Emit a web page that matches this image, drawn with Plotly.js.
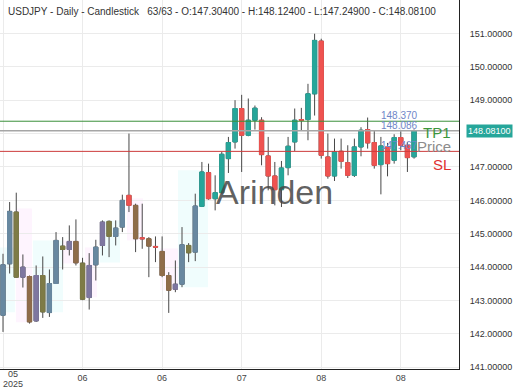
<!DOCTYPE html>
<html><head><meta charset="utf-8">
<script src="https://cdn.plot.ly/plotly-3.0.1.min.js"></script>
<style>html,body{margin:0;padding:0;background:#fff}#chart{width:520px;height:390px}</style>
</head><body><div id="chart"></div>
<script>
// ---- data ----
const opens  = [142.56,144.10,145.65,143.70,143.72,142.39,143.75,142.64,143.51,144.63,
                144.53,144.77,144.12,143.09,144.07,144.65,145.37,144.92,145.20,146.15,
                145.85,144.88,144.85,144.62,144.47,143.75,143.34,143.49,144.65,144.45,
                145.82,146.83,146.05,146.23,147.25,147.75,148.75,147.95,148.40,148.40,
                147.33,146.73,146.32,146.98,147.75,148.42,148.42,149.19,150.77,147.30,
                146.73,147.47,147.13,146.75,147.60,148.12,147.73,147.07,147.60,147.20,
                147.88,147.65,147.304];
const highs  = [144.40,145.95,146.23,144.38,143.75,144.05,144.32,143.93,145.05,144.90,
                145.25,145.43,144.28,144.42,144.82,145.40,145.40,145.40,146.17,148.00,
                145.90,145.90,144.90,144.92,144.92,143.85,144.20,145.20,144.72,146.20,
                147.15,147.10,146.75,147.45,147.90,149.00,149.16,149.05,148.84,148.49,
                147.90,147.15,147.18,147.90,148.75,148.77,149.49,150.99,150.84,148.00,
                147.85,147.85,147.65,147.85,148.19,148.48,148.10,147.90,147.72,147.98,
                148.07,147.75,148.124];
const lows   = [142.06,143.81,143.68,143.39,142.31,142.36,142.48,142.51,143.50,143.93,
                144.35,144.05,143.01,142.73,143.60,144.35,144.30,144.65,145.05,145.65,
                144.45,144.55,143.70,144.15,143.70,142.63,143.25,143.40,144.15,144.18,
                145.80,146.02,145.70,146.20,146.82,147.55,146.85,147.92,148.12,147.05,
                146.30,145.85,145.80,146.75,147.48,148.10,147.80,148.54,147.25,146.65,
                146.58,146.95,146.67,146.70,147.32,147.55,146.95,146.18,146.72,147.10,
                147.50,146.85,147.249];
const closes = [144.07,145.67,143.70,144.00,142.36,143.75,142.66,143.51,144.80,144.53,
                144.77,144.13,143.04,144.05,144.60,145.35,144.92,145.17,146.00,145.85,
                144.85,144.85,144.63,144.60,143.75,143.31,143.49,144.67,144.43,145.83,
                146.85,146.05,146.23,147.38,147.73,148.75,147.95,148.40,148.76,147.37,
                146.73,146.32,146.97,147.62,148.40,148.40,149.19,150.79,147.35,146.73,
                147.45,147.17,146.75,147.60,148.10,147.72,147.05,147.63,147.10,147.88,
                147.65,147.28,148.081];
const yTicks     = [141,142,143,144,145,146,147,148,149,150,151];
const yTickText  = ['141.00000','142.00000','143.00000','144.00000','145.00000','146.00000',
                    '147.00000','','149.00000','150.00000','151.00000'];
const xTickIdx   = [0,12,24,36,48,60];
const xTickText  = ['05','06','06','07','08','08'];
const firstYear  = '2025';
const tpLevel    = 148.370;
const entryLevel = 148.086;
const slLevel    = 147.467;
const lastPrice  = 148.081;
const headerText = 'USDJPY - Daily - Candlestick \u00a0\u00a063/63 - O:147.30400 - H:148.12400 - L:147.24900 - C:148.08100';
// signal zones: [fromIdx, toIdx, low, high, kind]
const zones = [
  [-0.45, 1.8, 142.65, 144.59, 'up'],
  [1.96, 4.37, 142.35, 145.76, 'down'],
  [4.52, 9.05, 142.65, 144.80, 'up'],
  [9.05, 11.61, 144.11, 144.80, 'down'],
  [12.37, 14.18, 143.10, 144.59, 'down'],
  [14.63, 17.65, 144.14, 145.40, 'up'],
  [18.70, 21.12, 144.80, 146.06, 'down'],
  [23.68, 26.40, 143.31, 144.56, 'down'],
  [26.40, 30.92, 143.40, 146.90, 'up']
];

// ---- style config ----
const toneGroups = [
  {idx:[0,1,7,8,14,17,18,27,29], color:'#6888a0'},
  {idx:[3,5,10,13,15,26], color:'#7e77a0'},
  {idx:[2,6,9,12,16,28], color:'#7e7b46'},
  {idx:[4,11,20,22,24,25], color:'#8f6c4a'}
];
const upColor = '#26a69a', downColor = '#ef5350', wickColor = '#484848';

const n = opens.length;
const allIdx = Array.from({length:n}, (_, i) => i);
const grouped = new Set(toneGroups.flatMap(g => g.idx));
const normalIdx = allIdx.filter(i => !grouped.has(i));

function bodyTrace(idxs, incColor, decColor) {
  return {
    type:'candlestick', x: idxs,
    open: idxs.map(i => opens[i]), close: idxs.map(i => closes[i]),
    high: idxs.map(i => Math.max(opens[i], closes[i])),
    low: idxs.map(i => Math.min(opens[i], closes[i])),
    increasing:{line:{color:incColor, width:1}, fillcolor:incColor},
    decreasing:{line:{color:decColor, width:1}, fillcolor:decColor},
    hoverinfo:'skip', showlegend:false
  };
}
const traces = [{
  type:'candlestick', x: allIdx, open: opens, high: highs, low: lows, close: closes,
  increasing:{line:{color:wickColor, width:1}, fillcolor:wickColor},
  decreasing:{line:{color:wickColor, width:1}, fillcolor:wickColor},
  hoverinfo:'skip', showlegend:false
}];
toneGroups.forEach(g => traces.push(bodyTrace(g.idx, g.color, g.color)));
traces.push(bodyTrace(normalIdx, upColor, downColor));

const shapes = zones.map(z => ({
  type:'rect', xref:'x', yref:'y', x0:z[0], x1:z[1], y0:z[2], y1:z[3],
  fillcolor: z[4] === 'up' ? '#f0fdfd' : '#fef4fe', line:{width:0}, layer:'below'
}));
[[tpLevel,'#3a8f3a',1],[entryLevel,'#a6a6a6',1.5],[slLevel,'#cc3a3a',1]].forEach(([v,c,w]) => {
  shapes.push({type:'line', xref:'paper', yref:'y', x0:0, x1:1, y0:v, y1:v,
               line:{color:c, width:w}, layer:'above'});
});

const font = 'Arial, "Liberation Sans", sans-serif';
const annotations = [
  {xref:'paper', yref:'paper', x:0, y:1, xanchor:'left', yanchor:'top', xshift:6, yshift:-4,
   text: headerText, showarrow:false, font:{family:font, size:10, color:'#333'}},
  {xref:'x', yref:'paper', x:xTickIdx[0], y:0, xanchor:'center', yanchor:'top', xshift:10, yshift:1,
   borderpad:0, text: xTickText[0], showarrow:false, font:{family:font, size:9, color:'#444'}},
  {xref:'x', yref:'paper', x:xTickIdx[0], y:0, xanchor:'center', yanchor:'bottom', xshift:10, yshift:-21,
   borderpad:0, text: firstYear, showarrow:false, font:{family:font, size:9, color:'#444'}},
  {xref:'paper', yref:'paper', x:0.597, y:0.48, xanchor:'center', yanchor:'middle',
   text:'Arinden', showarrow:false, font:{family:font, size:34, color:'rgba(70,70,70,0.85)'}},
  {xref:'paper', yref:'y', x:0.915, y:tpLevel, xanchor:'right', yanchor:'bottom', yshift:-2,
   text: tpLevel.toFixed(3), showarrow:false, font:{family:font, size:10, color:'#6f86c8'}},
  {xref:'paper', yref:'y', x:0.915, y:entryLevel, xanchor:'right', yanchor:'bottom', yshift:-2,
   text: entryLevel.toFixed(3), showarrow:false, font:{family:font, size:10, color:'#6f86c8'}},
  {xref:'paper', yref:'y', x:0.915, y:slLevel, xanchor:'right', yanchor:'bottom', yshift:-2,
   text: slLevel.toFixed(3), showarrow:false, font:{family:font, size:10, color:'#6f86c8'}},
  {xref:'paper', yref:'y', x:0.988, y:tpLevel, xanchor:'right', yanchor:'top', yshift:-1,
   text:'TP1', showarrow:false, font:{family:font, size:15, color:'#3c963c'}},
  {xref:'paper', yref:'y', x:0.988, y:entryLevel, xanchor:'right', yanchor:'top', yshift:-5,
   text:'Price', showarrow:false, font:{family:font, size:15, color:'#8c8c8c'}},
  {xref:'paper', yref:'y', x:0.988, y:slLevel, xanchor:'right', yanchor:'top', yshift:-3,
   text:'SL', showarrow:false, font:{family:font, size:15, color:'#e03030'}},
  {xref:'paper', yref:'y', x:1, y:lastPrice, xanchor:'left', yanchor:'middle', xshift:7,
   text: lastPrice.toFixed(5), showarrow:false, bgcolor:'#26a69a', borderpad:1,
   font:{family:font, size:9, color:'#fff'}}
];

const layout = {
  width:520, height:390, margin:{l:0, r:61, t:0, b:21},
  paper_bgcolor:'#fff', plot_bgcolor:'#fff', showlegend:false,
  boxgap:0.2, boxgroupgap:0.2,
  font:{family:font},
  xaxis:{range:[-0.452, 68.78], tickvals:xTickIdx, ticktext:['', ...xTickText.slice(1)],
         showgrid:true, gridcolor:'#ebebeb', zeroline:false, showline:true, linecolor:'#222',
         linewidth:1, ticks:'', tickfont:{size:9, color:'#444'}, rangeslider:{visible:false},
         fixedrange:true},
  yaxis:{range:[140.95, 152.0], side:'right', tickvals:yTicks, ticktext:yTickText,
         showgrid:true, gridcolor:'#ebebeb', zeroline:false, showline:true, linecolor:'#222',
         linewidth:1, ticks:'', ticklabelstandoff:8, tickfont:{size:9, color:'#333'},
         fixedrange:true},
  shapes: shapes, annotations: annotations
};
Plotly.newPlot('chart', traces, layout, {staticPlot:true, displayModeBar:false});
</script>
</body></html>
